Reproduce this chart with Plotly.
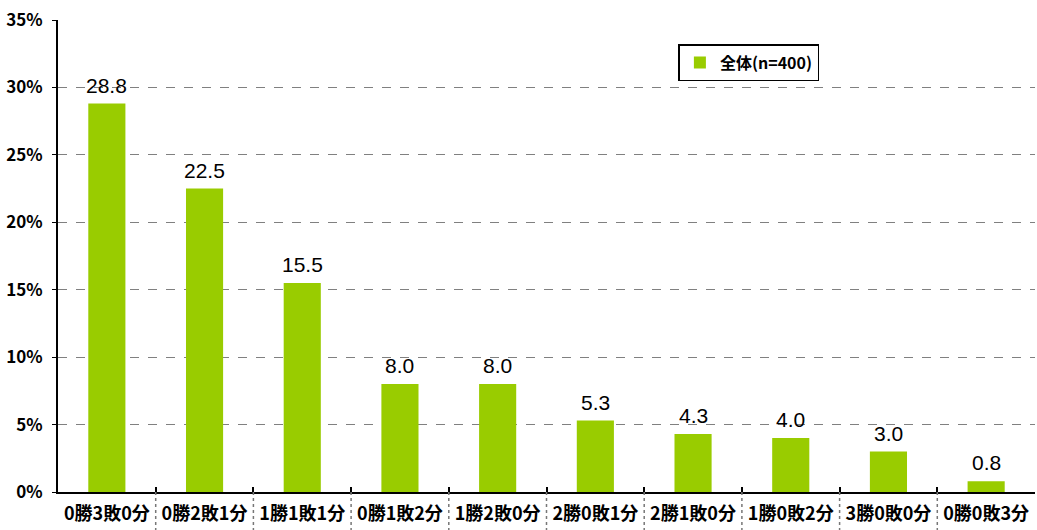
import plotly.graph_objects as go

categories = ["0勝3敗0分", "0勝2敗1分", "1勝1敗1分", "0勝1敗2分", "1勝2敗0分",
              "2勝0敗1分", "2勝1敗0分", "1勝0敗2分", "3勝0敗0分", "0勝0敗3分"]
values = [28.8, 22.5, 15.5, 8.0, 8.0, 5.3, 4.3, 4.0, 3.0, 0.8]
series_name = "全体(n=400)"
y_ticks = [0, 5, 10, 15, 20, 25, 30, 35]
y_tick_labels = [f"{v}%" for v in y_ticks]

FONT = "Noto Sans CJK JP"
GREEN = "#99CC00"

fig = go.Figure()
fig.add_trace(go.Bar(
    x=categories, y=values, name=series_name,
    marker=dict(color=GREEN, line=dict(width=0)),
    width=0.38,
    showlegend=True,
))

annotations = [
    dict(x=c, y=v, xref="x", yref="y", text=f"{v:.1f}", showarrow=False,
         yanchor="bottom", yshift=5,
         font=dict(family="Liberation Sans, Arial", size=21, color="black"))
    for c, v in zip(categories, values)
]

shapes = []
for i in range(len(categories) - 1):
    shapes.append(dict(type="line", xref="x", yref="paper",
                       x0=i + 0.5, x1=i + 0.5, y0=0, y1=-0.085,
                       line=dict(color="#777777", width=1.5, dash="dot")))
fig.update_layout(
    width=1037, height=530,
    margin=dict(l=58, r=2, t=20, b=38),
    plot_bgcolor="white", paper_bgcolor="white",
    shapes=shapes,
    annotations=annotations,
    legend=dict(x=0.635, y=0.949, xanchor="left", yanchor="top",
                bordercolor="black", borderwidth=1.5, bgcolor="white",
                font=dict(family=FONT, size=16, color="black", weight="bold"),
                itemwidth=30, tracegroupgap=0),
    xaxis=dict(
        type="category", automargin=False,
        showline=True, linecolor="black", linewidth=2,
        ticks="inside", ticklen=5, tickcolor="black", tickwidth=1.5,
        tickson="boundaries",
        showgrid=False,
        tickfont=dict(family=FONT, size=18, color="black", weight="bold"),
        ticklabelstandoff=4,
        range=[-0.5, len(categories) - 0.5],
    ),
    yaxis=dict(
        range=[0, 35], automargin=False,
        tickvals=y_ticks, ticktext=y_tick_labels,
        showline=True, linecolor="black", linewidth=2,
        ticks="outside", ticklen=4, tickcolor="black",
        ticklabelstandoff=6,
        showgrid=True, gridcolor="#808080", griddash="dash", gridwidth=1.2,
        zeroline=False,
        tickfont=dict(family=FONT, size=17, color="black", weight="bold"),
    ),
)
fig.write_html("out.html", config={"displayModeBar": False},
               post_script="document.body.style.margin='0';document.body.style.padding='0';")
